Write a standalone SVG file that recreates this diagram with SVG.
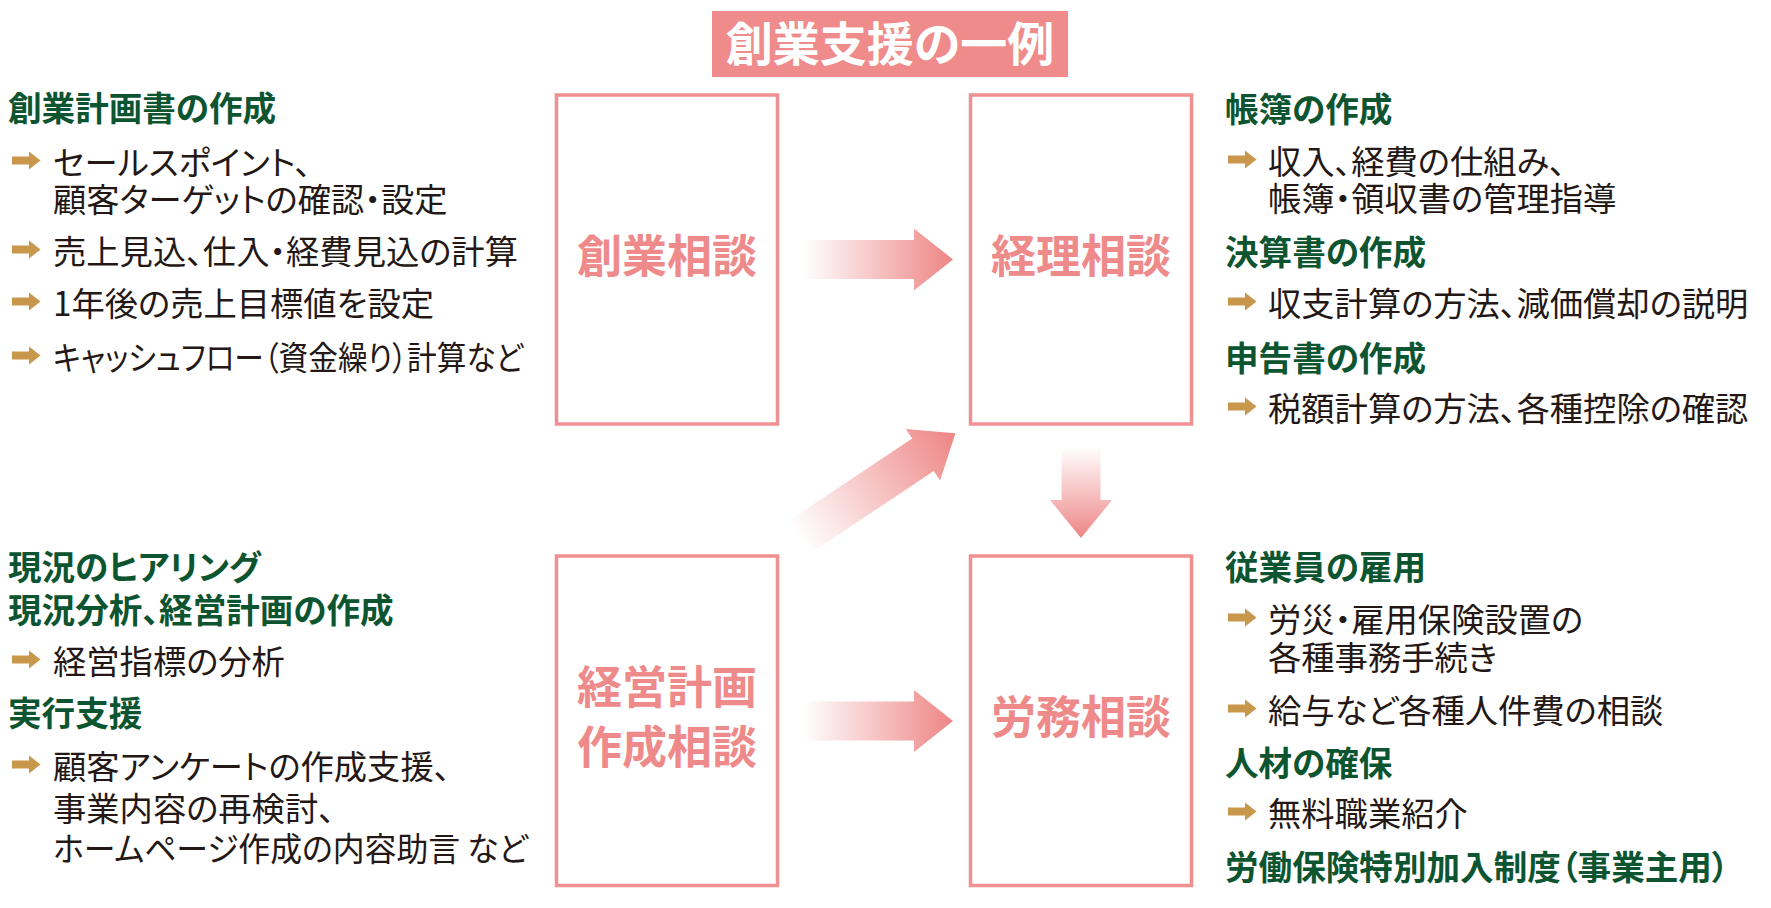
<svg xmlns="http://www.w3.org/2000/svg" width="1771" height="908" viewBox="0 0 1771 908">
<defs>
<style>
text { font-family: "Noto Sans CJK JP", "Noto Sans CJK SC", sans-serif; font-feature-settings: "palt"; }
.h { font-size: 33.6px; font-weight: 700; fill: #0d5530; }
.b { font-size: 33.3px; font-weight: 400; fill: #231815; }
.lbl { font-size: 45px; font-weight: 700; fill: #ef8a8a; text-anchor: middle; }
.box { fill: #ffffff; stroke: #f09090; stroke-width: 3.5; }
.title { font-size: 47px; font-weight: 700; fill: #ffffff; text-anchor: middle; }
.bul { fill: #c9974c; }
</style>
<linearGradient id="gh" x1="0" y1="0" x2="1" y2="0">
<stop offset="0" stop-color="#ee8585" stop-opacity="0"/>
<stop offset="1" stop-color="#ee8585" stop-opacity="1"/>
</linearGradient>
<linearGradient id="gv" x1="0" y1="0" x2="0" y2="1">
<stop offset="0" stop-color="#ee8585" stop-opacity="0"/>
<stop offset="1" stop-color="#ee8585" stop-opacity="1"/>
</linearGradient>
<path id="bul" class="bul" d="M0,-4 H17 V-9 L28.5,0 L17,9 V4 H0 Z"/>
</defs>
<rect width="1771" height="908" fill="#ffffff"/>

<g id="title">
<rect x="712" y="11" width="356" height="66" fill="#ef8b8b"/>
<text class="title" x="890" y="61">創業支援の一例</text>
</g>

<g id="node-sogyo">
<rect class="box" x="556.5" y="95" width="221" height="329"/>
<text class="lbl" x="667" y="273">創業相談</text>
</g>
<g id="node-keiri">
<rect class="box" x="970.5" y="95" width="221" height="329"/>
<text class="lbl" x="1081" y="273">経理相談</text>
</g>
<g id="node-keiei">
<rect class="box" x="556.5" y="556" width="221" height="329.5"/>
<text class="lbl" x="667" y="704">経営計画</text>
<text class="lbl" x="667" y="764">作成相談</text>
</g>
<g id="node-romu">
<rect class="box" x="970.5" y="556" width="221" height="329.5"/>
<text class="lbl" x="1081" y="734">労務相談</text>
</g>

<g id="connectors">
<path d="M803,240 H914 V228.5 L953,259.5 L914,290.5 V279 H803 Z" fill="url(#gh)"/>
<path d="M803,701.5 H914 V690 L953,721 L914,752 V740.5 H803 Z" fill="url(#gh)"/>
<path d="M1061.5,447 H1100.5 V500 H1112 L1081,538 L1050,500 H1061.5 Z" fill="url(#gv)"/>
<path transform="translate(799,537.5) rotate(-33.7)" d="M0,-19.5 H149 V-31 L188,0 L149,31 V19.5 H0 Z" fill="url(#gh)"/>
</g>

<g id="text-sogyo">
<text class="h" x="8" y="120.5">創業計画書の作成</text>
<use href="#bul" x="12" y="160.5"/>
<text class="b" x="53" y="174.5">セールスポイント、</text>
<text class="b" x="53" y="211.5">顧客ターゲットの確認・設定</text>
<use href="#bul" x="12" y="249.5"/>
<text class="b" x="53" y="263.5">売上見込、仕入・経費見込の計算</text>
<use href="#bul" x="12" y="301.5"/>
<text class="b" x="53" y="315.5">1年後の売上目標値を設定</text>
<use href="#bul" x="12" y="355.5"/>
<text class="b" x="53" y="369.5" textLength="470" lengthAdjust="spacingAndGlyphs">キャッシュフロー（資金繰り）計算など</text>
</g>

<g id="text-keiei">
<text class="h" x="8" y="579.5">現況のヒアリング</text>
<text class="h" x="8" y="622.5">現況分析、経営計画の作成</text>
<use href="#bul" x="12" y="659.5"/>
<text class="b" x="53" y="673.5">経営指標の分析</text>
<text class="h" x="8" y="725.5">実行支援</text>
<use href="#bul" x="12" y="764.5"/>
<text class="b" x="53" y="778.5">顧客アンケートの作成支援、</text>
<text class="b" x="53" y="820.5">事業内容の再検討、</text>
<text class="b" x="53" y="860.5" textLength="475" lengthAdjust="spacingAndGlyphs">ホームページ作成の内容助言 など</text>
</g>

<g id="text-keiri">
<text class="h" x="1225" y="121.5">帳簿の作成</text>
<use href="#bul" x="1228" y="159.5"/>
<text class="b" x="1268" y="173.5">収入、経費の仕組み、</text>
<text class="b" x="1268" y="210.5">帳簿・領収書の管理指導</text>
<text class="h" x="1225" y="264.5">決算書の作成</text>
<use href="#bul" x="1228" y="301.5"/>
<text class="b" x="1268" y="315.5">収支計算の方法、減価償却の説明</text>
<text class="h" x="1225" y="370.5">申告書の作成</text>
<use href="#bul" x="1228" y="406.5"/>
<text class="b" x="1268" y="420.5">税額計算の方法、各種控除の確認</text>
</g>

<g id="text-romu">
<text class="h" x="1225" y="579.5">従業員の雇用</text>
<use href="#bul" x="1228" y="617.5"/>
<text class="b" x="1268" y="631.5">労災・雇用保険設置の</text>
<text class="b" x="1268" y="669.5">各種事務手続き</text>
<use href="#bul" x="1228" y="708.5"/>
<text class="b" x="1268" y="722.5">給与など各種人件費の相談</text>
<text class="h" x="1225" y="775.5">人材の確保</text>
<use href="#bul" x="1228" y="811.5"/>
<text class="b" x="1268" y="825.5">無料職業紹介</text>
<text class="h" x="1225" y="879.5">労働保険特別加入制度（事業主用）</text>
</g>
</svg>
